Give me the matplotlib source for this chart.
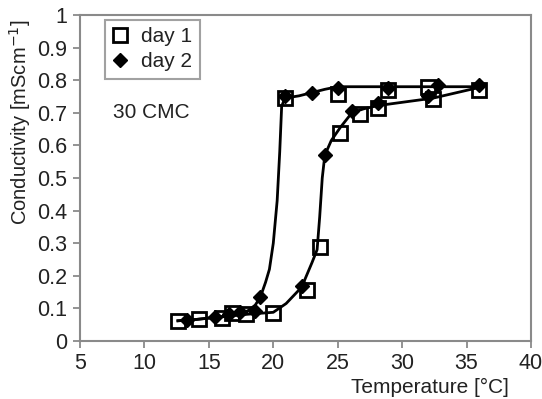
import matplotlib
matplotlib.use("Agg")
import matplotlib.pyplot as plt

plt.rcParams['font.family'] = ['Liberation Sans', 'DejaVu Sans']

# day 1 (open squares)
t_day1 = [12.6, 14.2, 16.0, 16.8, 17.9, 20.0, 20.9, 22.6, 23.6, 25.0, 25.2,
          26.7, 28.1, 28.9, 32.0, 32.4, 36.0]
c_day1 = [0.062, 0.068, 0.072, 0.085, 0.082, 0.085, 0.745, 0.155, 0.288, 0.758,
          0.638, 0.695, 0.715, 0.770, 0.778, 0.743, 0.770]

# day 2 (filled diamonds)
t_day2 = [13.3, 15.5, 16.6, 17.4, 18.6, 19.0, 20.9, 22.2, 23.0, 24.0, 25.0,
          26.1, 28.1, 28.9, 32.0, 32.8, 36.0]
c_day2 = [0.064, 0.075, 0.082, 0.090, 0.092, 0.135, 0.750, 0.170, 0.760, 0.570,
          0.775, 0.705, 0.730, 0.775, 0.750, 0.785, 0.785]

# drawn transition curves
t_curve1 = [12.6, 14.0, 16.0, 17.0, 18.0, 18.6, 19.0, 19.4, 19.7, 20.0, 20.3,
            20.5, 20.65, 20.9, 22.0, 23.0, 24.0, 25.0, 30.0, 36.0]
c_curve1 = [0.062, 0.066, 0.075, 0.085, 0.092, 0.11, 0.135, 0.18, 0.22, 0.30,
            0.43, 0.58, 0.72, 0.745, 0.752, 0.762, 0.772, 0.780, 0.780, 0.780]
t_curve2 = [12.6, 14.0, 16.0, 18.0, 20.0, 21.0, 22.2, 23.0, 23.4, 23.6, 23.8,
            24.0, 24.5, 25.2, 26.1, 27.0, 28.1, 32.4, 36.0]
c_curve2 = [0.062, 0.066, 0.074, 0.082, 0.088, 0.115, 0.165, 0.24, 0.28, 0.38,
            0.50, 0.57, 0.615, 0.655, 0.700, 0.712, 0.722, 0.745, 0.778]

fig = plt.figure(figsize=(5.42, 3.99), dpi=100)
ax = fig.add_axes([0.1476, 0.1454, 0.8321, 0.8170])

ax.plot(t_curve1, c_curve1, color='black', lw=2.0, zorder=2)
ax.plot(t_curve2, c_curve2, color='black', lw=2.0, zorder=2)
ax.plot(t_day1, c_day1, ls='none', marker='s', ms=10, mfc='none', mec='black',
        mew=2.0, label='day 1', zorder=3)
ax.plot(t_day2, c_day2, ls='none', marker='D', ms=7, color='black',
        label='day 2', zorder=4)

ax.set_xlim(5, 40)
ax.set_ylim(0, 1)
ax.set_xticks(range(5, 41, 5))
ax.set_yticks([i / 10 for i in range(11)])
ax.set_yticklabels(['0', '0.1', '0.2', '0.3', '0.4', '0.5', '0.6', '0.7', '0.8', '0.9', '1'])

for s in ax.spines.values():
    s.set_color('#8a8a8a')
    s.set_linewidth(1.5)
ax.tick_params(direction='out', length=5, width=1.3, color='#8a8a8a',
               labelsize=15.5, labelcolor='#222222', pad=4)

ax.text(-0.133, 0.67, 'Conductivity [mScm$^{-1}$]', transform=ax.transAxes,
        rotation=90, ha='center', va='center', fontsize=14.5, color='#222222')
ax.text(0.776, -0.144, 'Temperature [°C]', transform=ax.transAxes,
        ha='center', va='center', fontsize=15, color='#222222')
ax.text(0.073, 0.70, '30 CMC', transform=ax.transAxes, ha='left', va='center',
        fontsize=15, color='#222222')

leg = ax.legend(loc='upper left', bbox_to_anchor=(0.055, 0.985), fontsize=15,
                frameon=True, fancybox=False, handlelength=0.8, handletextpad=0.6,
                borderpad=0.35, labelspacing=0.3, borderaxespad=0)
leg.get_frame().set_edgecolor('#8a8a8a')
leg.get_frame().set_linewidth(1.5)
for t in leg.get_texts():
    t.set_color('#222222')

fig.savefig('out.png', dpi=100)
